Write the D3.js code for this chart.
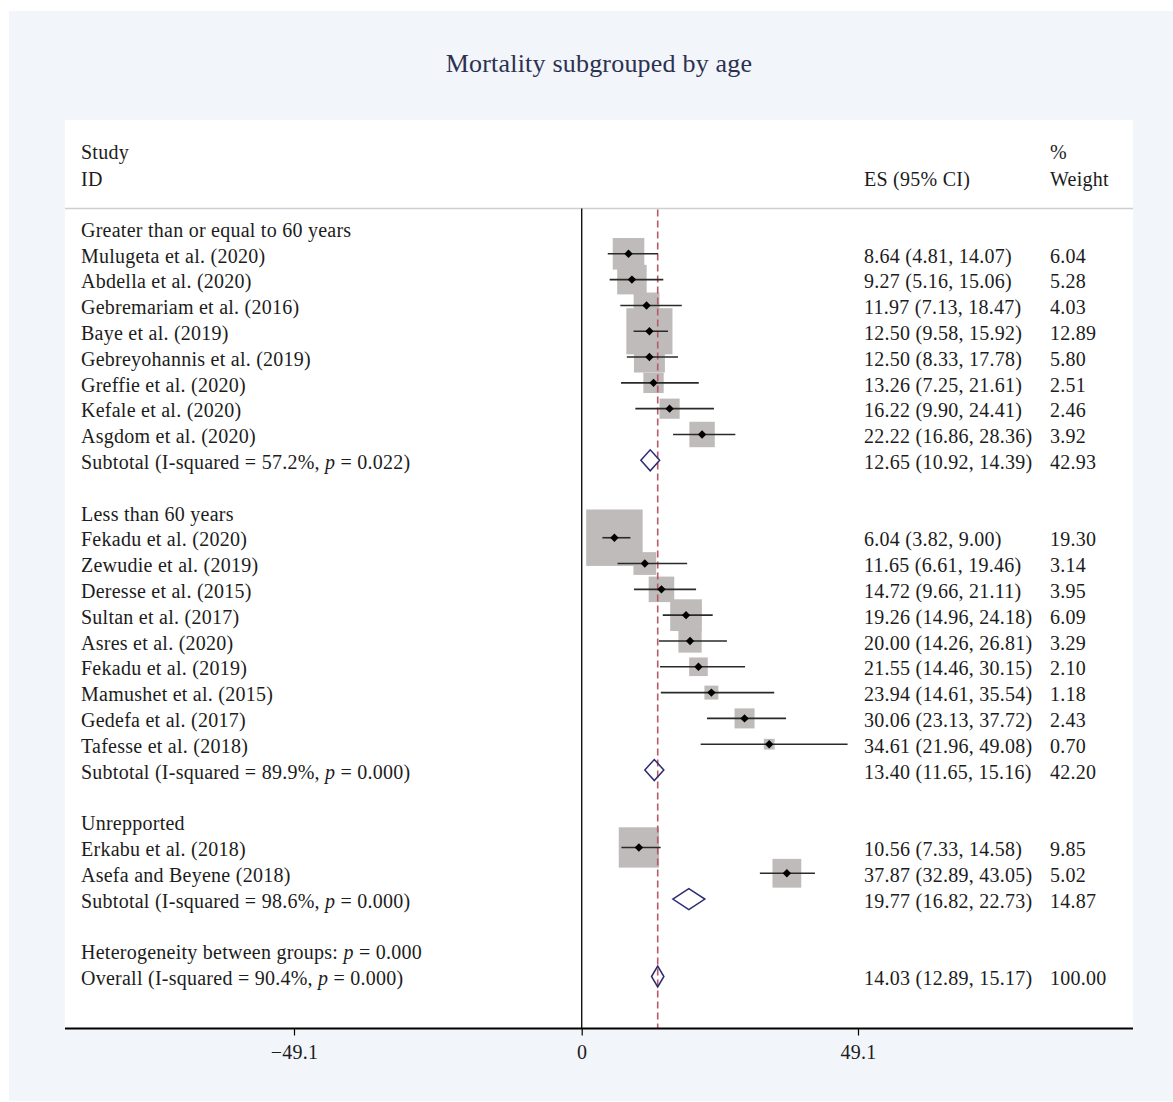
<!DOCTYPE html>
<html>
<head>
<meta charset="utf-8">
<script src="https://cdn.jsdelivr.net/npm/d3@7.9.0/dist/d3.min.js"></script>
<style>
  body { margin: 0; background: #fff; }
  svg text { font-family: "Liberation Serif", "DejaVu Serif", serif; fill: #1c1c1c; letter-spacing: 0.25px; }
</style>
</head>
<body>
<svg id="chart" width="1173" height="1102"></svg>
<script>
// studies, by subgroup
const groupNames = ['Greater than or equal to 60 years', 'Less than 60 years', 'Unrepported'];
const studyNames = [
  'Mulugeta et al. (2020)', 'Abdella et al. (2020)', 'Gebremariam et al. (2016)', 'Baye et al. (2019)',
  'Gebreyohannis et al. (2019)', 'Greffie et al. (2020)', 'Kefale et al. (2020)', 'Asgdom et al. (2020)',
  'Fekadu et al. (2020)', 'Zewudie et al. (2019)', 'Deresse et al. (2015)', 'Sultan et al. (2017)',
  'Asres et al. (2020)', 'Fekadu et al. (2019)', 'Mamushet et al. (2015)', 'Gedefa et al. (2017)',
  'Tafesse et al. (2018)',
  'Erkabu et al. (2018)', 'Asefa and Beyene (2018)'
];
const studyGroup = [0, 0, 0, 0, 0, 0, 0, 0, 1, 1, 1, 1, 1, 1, 1, 1, 1, 2, 2];
const studyES = [8.64, 9.27, 11.97, 12.50, 12.50, 13.26, 16.22, 22.22,
  6.04, 11.65, 14.72, 19.26, 20.00, 21.55, 23.94, 30.06, 34.61, 10.56, 37.87];
const studyLow = [4.81, 5.16, 7.13, 9.58, 8.33, 7.25, 9.90, 16.86,
  3.82, 6.61, 9.66, 14.96, 14.26, 14.46, 14.61, 23.13, 21.96, 7.33, 32.89];
const studyHigh = [14.07, 15.06, 18.47, 15.92, 17.78, 21.61, 24.41, 28.36,
  9.00, 19.46, 21.11, 24.18, 26.81, 30.15, 35.54, 37.72, 49.08, 14.58, 43.05];
const studyWeight = [6.04, 5.28, 4.03, 12.89, 5.80, 2.51, 2.46, 3.92,
  19.30, 3.14, 3.95, 6.09, 3.29, 2.10, 1.18, 2.43, 0.70, 9.85, 5.02];

// subtotals
const subI2 = ['57.2%', '89.9%', '98.6%'];
const subP = ['0.022', '0.000', '0.000'];
const subES = [12.65, 13.40, 19.77];
const subLow = [10.92, 11.65, 16.82];
const subHigh = [14.39, 15.16, 22.73];
const subWeight = [42.93, 42.20, 14.87];

// overall
const hetP = '0.000';
const overallI2 = '90.4%';
const overallP = '0.000';
const overallES = 14.03;
const overallLow = 12.89;
const overallHigh = 15.17;
const overallWeight = 100.00;

const axisTicks = [-49.1, 0, 49.1];

// build the row table
let rows = [];
groupNames.forEach((g, gi) => {
  rows.push({ type: 'header', label: [[g, false]] });
  studyNames.forEach((name, i) => {
    if (studyGroup[i] !== gi) return;
    rows.push({ type: 'study', label: [[name, false]], es: studyES[i], lo: studyLow[i], hi: studyHigh[i], w: studyWeight[i] });
  });
  rows.push({
    type: 'diamond',
    label: [[`Subtotal (I-squared = ${subI2[gi]}, `, false], ['p', true], [` = ${subP[gi]})`, false]],
    es: subES[gi], lo: subLow[gi], hi: subHigh[gi], w: subWeight[gi]
  });
  rows.push({ type: 'blank' });
});
rows.push({ type: 'header', label: [['Heterogeneity between groups: ', false], ['p', true], [` = ${hetP}`, false]] });
rows.push({
  type: 'diamond',
  label: [[`Overall (I-squared = ${overallI2}, `, false], ['p', true], [` = ${overallP})`, false]],
  es: overallES, lo: overallLow, hi: overallHigh, w: overallWeight
});

const svg = d3.select('#chart');
const fontSize = 20;

const panelLeft = 65, panelRight = 1133, panelTop = 120, axisY = 1028.5, headLine = 208.5;

svg.append('rect').attr('x', 9).attr('y', 11).attr('width', 1164).attr('height', 1090).attr('fill', '#f2f5f9');
svg.append('rect').attr('x', panelLeft).attr('y', panelTop).attr('width', panelRight - panelLeft).attr('height', axisY - panelTop).attr('fill', '#fff');

svg.append('text')
  .attr('x', 599).attr('y', 72)
  .attr('text-anchor', 'middle')
  .style('font-size', '26px')
  .style('letter-spacing', '0.2px')
  .style('fill', '#2c3152')
  .text('Mortality subgrouped by age');

const x = d3.scaleLinear().domain([0, 49.1]).range([581.7, 847.7]);
// tick labels in the source sit slightly apart from the data scale
const xTicks = d3.scaleLinear().domain([-49.1, 0, 49.1]).range([294, 581.7, 858]);
const y = d3.scaleLinear().domain([0, rows.length - 1]).range([228, 976.5]);

// column headers
const colLabel = panelLeft + 16, colES = 864, colW = 1050;
const header = svg.append('g').style('font-size', fontSize + 'px');
header.append('text').attr('x', colLabel).attr('y', 159).text('Study');
header.append('text').attr('x', colLabel).attr('y', 186).text('ID');
header.append('text').attr('x', colES).attr('y', 186).text('ES (95% CI)');
header.append('text').attr('x', colW).attr('y', 159).text('%');
header.append('text').attr('x', colW).attr('y', 186).text('Weight');

svg.append('line')
  .attr('x1', panelLeft).attr('x2', panelRight).attr('y1', headLine).attr('y2', headLine)
  .attr('stroke', '#cfcfd3').attr('stroke-width', 1.5);

// weight boxes first, under everything
const boxK = 12.85;
rows.forEach((r, i) => {
  if (r.type !== 'study') return;
  const s = boxK * Math.sqrt(r.w);
  svg.append('rect')
    .attr('x', x(r.es) - s / 2).attr('y', y(i) - s / 2)
    .attr('width', s).attr('height', s)
    .attr('fill', '#bfbbbb');
});

// zero line and overall line
svg.append('line')
  .attr('x1', x(0)).attr('x2', x(0)).attr('y1', headLine).attr('y2', axisY)
  .attr('stroke', '#111').attr('stroke-width', 1.4);
svg.append('line')
  .attr('x1', x(overallES)).attr('x2', x(overallES)).attr('y1', headLine + 1).attr('y2', axisY)
  .attr('stroke', '#b55a66').attr('stroke-width', 1.6)
  .attr('stroke-dasharray', '7,4');

rows.forEach((r, i) => {
  const cy = y(i);
  if (r.type === 'study') {
    svg.append('line')
      .attr('x1', x(r.lo)).attr('x2', x(r.hi)).attr('y1', cy).attr('y2', cy)
      .attr('stroke', '#2a2a2a').attr('stroke-width', 1.6);
    const d = 4.2;
    svg.append('path')
      .attr('d', `M${x(r.es) - d},${cy} L${x(r.es)},${cy - d} L${x(r.es) + d},${cy} L${x(r.es)},${cy + d} Z`)
      .attr('fill', '#000');
  } else if (r.type === 'diamond') {
    const h = 10.5;
    svg.append('path')
      .attr('d', `M${x(r.lo)},${cy} L${x(r.es)},${cy - h} L${x(r.hi)},${cy} L${x(r.es)},${cy + h} Z`)
      .attr('fill', 'none').attr('stroke', '#2d2b72').attr('stroke-width', 1.5);
  }
});

// text columns
const fmt = d3.format('.2f');
const textG = svg.append('g').style('font-size', fontSize + 'px');
rows.forEach((r, i) => {
  if (r.type === 'blank') return;
  const base = y(i) + 8.7;
  const t = textG.append('text').attr('x', colLabel).attr('y', base);
  r.label.forEach(([s, it]) => {
    t.append('tspan').style('font-style', it ? 'italic' : null).text(s);
  });
  if (r.es != null) {
    textG.append('text').attr('x', colES).attr('y', base)
      .text(`${fmt(r.es)} (${fmt(r.lo)}, ${fmt(r.hi)})`);
    textG.append('text').attr('x', colW).attr('y', base).text(fmt(r.w));
  }
});

// x axis
svg.append('line')
  .attr('x1', panelLeft).attr('x2', panelRight).attr('y1', axisY).attr('y2', axisY)
  .attr('stroke', '#000').attr('stroke-width', 2);
const axis = svg.append('g')
  .attr('transform', `translate(0,${axisY})`)
  .call(d3.axisBottom(xTicks).tickValues(axisTicks).tickSize(7).tickSizeOuter(0)
    .tickFormat(d => d === 0 ? '0' : d3.format('.1f')(d)));
axis.select('.domain').remove();
axis.selectAll('.tick line').attr('stroke', '#000').attr('stroke-width', 1.2);
axis.selectAll('.tick text')
  .attr('y', 16)
  .style('font-family', '"Liberation Serif", "DejaVu Serif", serif')
  .style('font-size', fontSize + 'px')
  .style('fill', '#1c1c1c');
</script>
</body>
</html>
